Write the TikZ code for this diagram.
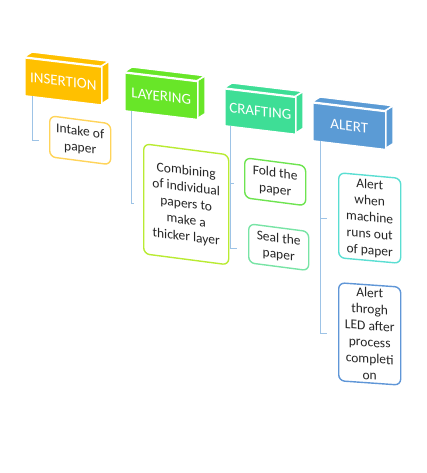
\documentclass[tikz,border=0pt]{standalone}
\usepackage{fontspec}
\setmainfont{Carlito}
\definecolor{cIns}{RGB}{255,192,0}
\definecolor{cLay}{RGB}{104,230,40}
\definecolor{cCra}{RGB}{62,222,150}
\definecolor{cAle}{RGB}{91,155,213}
\definecolor{bIns}{RGB}{255,212,90}
\definecolor{bLay}{RGB}{185,235,50}
\definecolor{bFold}{RGB}{110,228,80}
\definecolor{bSeal}{RGB}{120,228,165}
\definecolor{bAa}{RGB}{90,222,210}
\definecolor{bAb}{RGB}{95,150,215}
\definecolor{connc}{RGB}{157,195,230}
\tikzset{
  hdr/.style={fill=#1, draw=white, line width=1.5pt, rectangle, inner sep=0pt,
    anchor=north west, text=white, font=\fontsize{15}{18}\selectfont, transform shape},
  face/.style={fill=#1, draw=white, line width=1.5pt, line join=round},
  childbox/.style={draw=#1, fill=white, line width=1.4pt, rounded corners=6pt, inner sep=2pt,
    anchor=north west, align=center, font=\fontsize{13.5}{16.5}\selectfont,
    text=black!85, transform shape},
  connline/.style={draw=connc, line width=0.9pt}
}
\newcommand\myhdr[7]{%
  \begin{scope}[shift={(#2,#3)}, yslant=-0.12]
    \path[face=#6] (#4,0) -- (#4+8,-6) -- (#4+8,#5-6) -- (#4,#5) -- cycle;
    \path[face=#6] (0,0) -- (8,-6) -- (#4+8,-6) -- (#4,0) -- cycle;
    \node[hdr=#6, minimum width=#4pt, minimum height=#5pt] (#1) at (0,0) {#7};
  \end{scope}}
\newcommand\mychild[8]{%
  \begin{scope}[shift={(#2,#3)}, yslant=#7]
    \node[childbox=#6, minimum width=#4pt, minimum height=#5pt] (#1) at (0,0) {#8};
  \end{scope}}
\begin{document}
\begin{tikzpicture}[x=1pt, y=-1pt]
  \useasboundingbox (0,0) rectangle (427,473);
  % connectors (behind)
  \coordinate (k1) at (39,140);
  \coordinate (k2) at (134,203);
  \coordinate (k3) at (234,183);
  \coordinate (k4) at (237,248);
  \coordinate (k5) at (327,218);
  \coordinate (k6) at (327,333);
  % headers
  \myhdr{ins}{24}{57}{77}{38}{cIns}{INSERTION}
  \myhdr{lay}{124}{72}{73}{38}{cLay}{LAYERING}
  \myhdr{cra}{224}{88}{71}{37}{cCra}{CRAFTING}
  \myhdr{ale}{312}{102}{73}{38}{cAle}{ALERT}
  % connector lines
  \coordinate (v1) at ([xshift=8pt]ins.south west);
  \coordinate (v2) at ([xshift=7pt]lay.south west);
  \coordinate (v3) at ([xshift=6pt]cra.south west);
  \coordinate (v4) at ([xshift=8pt]ale.south west);
  \draw[connline] (v1) |- (k1);
  \draw[connline] (v2) |- (k2);
  \draw[connline] (v3) |- (k4);
  \draw[connline] (v3 |- k3) -- (k3);
  \draw[connline] (v4) |- (k6);
  \draw[connline] (v4 |- k5) -- (k5);
  % children
  \mychild{intake}{49}{115}{61}{41}{bIns}{-0.13}{Intake of\\paper}
  \mychild{comb}{143}{143}{85}{110}{bLay}{-0.13}{Combining\\of individual\\papers to\\make a\\thicker layer}
  \mychild{fold}{244}{157}{61}{40}{bFold}{-0.13}{Fold the\\paper}
  \mychild{seal}{248}{223}{60}{39}{bSeal}{-0.13}{Seal the\\paper}
  \mychild{alerta}{338}{172}{62}{85}{bAa}{-0.09}{Alert\\when\\machine\\runs out\\of paper}
  \mychild{alertb}{338}{282}{62}{98}{bAb}{-0.07}{Alert\\throgh\\LED after\\process\\completi\\on}
\end{tikzpicture}
\end{document}
